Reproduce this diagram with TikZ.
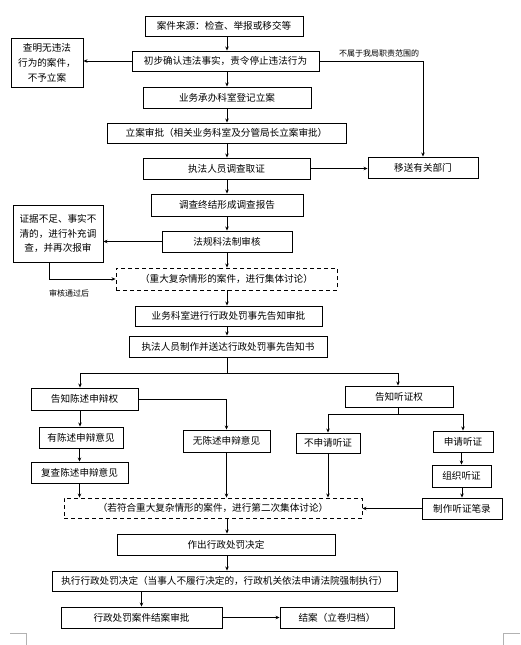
\documentclass[tikz,border=0pt]{standalone}
\usepackage{fontspec}
\setmainfont{Noto Sans CJK SC}
\usetikzlibrary{arrows.meta}
\begin{document}
\begin{tikzpicture}[x=1pt,y=-1pt,
 box/.style={draw, line width=0.9pt, inner sep=0pt, font=\fontsize{9.6}{11}\selectfont, align=center},
 dbox/.style={box, dash pattern=on 4pt off 3pt},
 arr/.style={-{Stealth[length=4pt,width=3.5pt]}, line width=0.8pt},
 ln/.style={line width=0.8pt},
 lbl/.style={font=\fontsize{8}{9}\selectfont, inner sep=0pt},
 cornermark/.style={draw=gray!60, line width=0.8pt}]
\useasboundingbox (0,0) rectangle (520,645);
\coordinate (mx) at (227,0);
\coordinate (jL) at (80,0);
\coordinate (jR) at (398,0);
\coordinate (jT) at (423,0);
\coordinate (jB) at (49,0);
% nodes
\node[box, minimum width=158pt, minimum height=20pt] (b1) at (224,26) {案件来源：检查、举报或移交等};
\node[box, minimum width=187pt, minimum height=20pt] (b2) at (225.5,61) {初步确认违法事实，责令停止违法行为};
\node[box, minimum width=72pt, minimum height=49pt, font=\fontsize{9.6}{15}\selectfont] (bL) at (47,62.5) {查明无违法\\行为的案件，\\不予立案};
\node[box, minimum width=168pt, minimum height=21pt] (b3) at (227,97.5) {业务承办科室登记立案};
\node[box, minimum width=239pt, minimum height=20pt] (b4) at (226.5,133) {立案审批（相关业务科室及分管局长立案审批）};
\node[box, minimum width=167pt, minimum height=21pt] (b5) at (226.5,168.5) {执法人员调查取证};
\node[box, minimum width=110pt, minimum height=21pt] (bT) at (423,167.5) {移送有关部门};
\node[box, minimum width=152pt, minimum height=22pt] (b6) at (227,205) {调查终结形成调查报告};
\node[box, minimum width=130pt, minimum height=21pt] (b7) at (227,241.5) {法规科法制审核};
\node[box, minimum width=90pt, minimum height=57pt, font=\fontsize{9.6}{14.5}\selectfont] (bR) at (58,233.5) {证据不足、事实不\\清的，进行补充调\\查，并再次报审};
\node[dbox, minimum width=221pt, minimum height=22pt] (d1) at (226.5,279) {（重大复杂情形的案件，进行集体讨论）};
\node[box, minimum width=187pt, minimum height=20pt] (b8) at (228.5,316) {业务科室进行行政处罚事先告知审批};
\node[box, minimum width=198pt, minimum height=21pt] (b9) at (228,346.5) {执法人员制作并送达行政处罚事先告知书};
\node[box, minimum width=107pt, minimum height=22pt] (c1) at (84.5,399) {告知陈述申辩权};
\node[box, minimum width=108pt, minimum height=21pt] (c2) at (399,396.5) {告知听证权};
\node[box, minimum width=84pt, minimum height=21pt] (c3) at (81,437.5) {有陈述申辩意见};
\node[box, minimum width=97pt, minimum height=21pt] (c4) at (79.5,472.5) {复查陈述申辩意见};
\node[box, minimum width=87pt, minimum height=22pt] (c5) at (226.5,441) {无陈述申辩意见};
\node[box, minimum width=64pt, minimum height=20pt] (c6) at (328,443) {不申请听证};
\node[box, minimum width=60pt, minimum height=21pt] (c7) at (463,441.5) {申请听证};
\node[box, minimum width=59pt, minimum height=22pt] (c8) at (461.5,476) {组织听证};
\node[box, minimum width=80pt, minimum height=21pt] (c9) at (462,508.5) {制作听证笔录};
\node[dbox, minimum width=298pt, minimum height=20pt] (d2) at (213,508) {（若符合重大复杂情形的案件，进行第二次集体讨论）};
\node[box, minimum width=218pt, minimum height=21pt] (e1) at (226,544.5) {作出行政处罚决定};
\node[box, minimum width=345pt, minimum height=20pt] (e2) at (224.5,581) {执行行政处罚决定（当事人不履行决定的，行政机关依法申请法院强制执行）};
\node[box, minimum width=161pt, minimum height=21pt] (e3) at (141.5,617.5) {行政处罚案件结案审批};
\node[box, minimum width=114pt, minimum height=21pt] (e4) at (337,617.5) {结案（立卷归档）};
\node[lbl] (l1) at (379,53) {不属于我局职责范围的};
\node[lbl] (l2) at (69,293) {审核通过后};
% connectors
\draw[arr] (b1.south -| mx) -- (b2.north -| mx);
\draw[arr] (b2.west) -- (b2.west -| bL.east);
\draw[arr] (b2.east) -| (bT.north -| jT);
\draw[arr] (b2.south -| mx) -- (b3.north -| mx);
\draw[arr] (b3.south -| mx) -- (b4.north -| mx);
\draw[arr] (b4.south -| mx) -- (b5.north -| mx);
\draw[arr] (b5.east) -- (b5.east -| bT.west);
\draw[arr] (b5.south -| mx) -- (b6.north -| mx);
\draw[arr] (b6.south -| mx) -- (b7.north -| mx);
\draw[arr] (b7.west) -- (b7.west -| bR.east);
\draw[arr] (bR.south -| jB) |- (d1.west);
\draw[arr] (b7.south -| mx) -- (d1.north -| mx);
\draw[arr] (d1.south -| mx) -- (b8.north -| mx);
\draw[arr] (b8.south -| mx) -- (b9.north -| mx);
\draw[arr] (b9.south -| mx) -- ++(0,15.5) -| (c1.north -| jL);
\draw[arr] (b9.south -| mx) -- ++(0,15.5) -| (c2.north -| jR);
\draw[arr] (c1.east) -| (c5.north);
\draw[arr] (c1.south -| jL) -- (c3.north -| jL);
\draw[arr] (c3.south -| c4.north) -- (c4.north);
\draw[arr] (c4.south) -- (c4.south |- d2.north);
\draw[arr] (c5.south) -- (c5.south |- d2.north);
\draw[arr] (c2.south -| jR) -- ++(0,6.5) -| (c6.north);
\draw[arr] (c2.south -| jR) -- ++(0,6.5) -| (c7.north);
\draw[arr] (c7.south -| c8.north) -- (c8.north);
\draw[arr] (c8.south -| c9.north) -- (c9.north);
\draw[arr] (c9.west) -- (c9.west -| d2.east);
\draw[arr] (c6.south) -- (c6.south |- d2.north);
\draw[arr] (d2.south -| mx) -- (e1.north -| mx);
\draw[arr] (e1.south -| mx) -- (e2.north -| mx);
\draw[arr] (e2.south -| e3.north) -- (e3.north);
\draw[arr] (e3.east) -- (e4.west);
% corner marks
\draw[cornermark] (10,633) -- (26,633) -- (26,645);
\draw[cornermark] (503,645) -- (503,633) -- (520,633);
\end{tikzpicture}
\end{document}
